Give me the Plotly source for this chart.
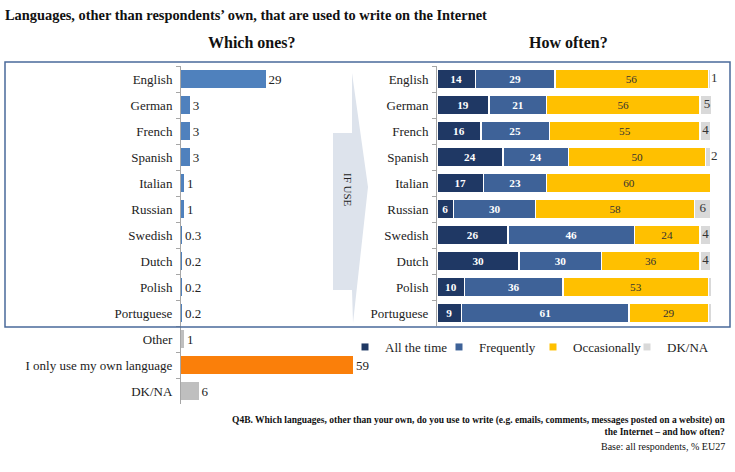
import plotly.graph_objects as go

W, H = 735, 472
FONT = "Liberation Serif, Times New Roman, DejaVu Serif, serif"

# ---- data ----
left_categories = ["English", "German", "French", "Spanish", "Italian", "Russian", "Swedish",
                   "Dutch", "Polish", "Portuguese", "Other", "I only use my own language", "DK/NA"]
left_values = [29, 3, 3, 3, 1, 1, 0.3, 0.2, 0.2, 0.2, 1, 59, 6]

right_categories = ["English", "German", "French", "Spanish", "Italian", "Russian", "Swedish",
                    "Dutch", "Polish", "Portuguese"]
all_the_time = [14, 19, 16, 24, 17, 6, 26, 30, 10, 9]
frequently = [29, 21, 25, 24, 23, 30, 46, 30, 36, 61]
occasionally = [56, 56, 55, 50, 60, 58, 24, 36, 53, 29]
dk_na = [1, 5, 4, 2, 1, 6, 4, 4, 2, 2]

series_names = ["All the time", "Frequently", "Occasionally", "DK/NA"]
series_colors = ["#1f3864", "#3e6298", "#ffc000", "#d9d9d9"]
series_text_colors = ["white", "white", "#333333", "#333333"]
series_bold = [True, True, False, False]

BLUE = "#4f81bd"
GREY = "#bfbfbf"
ORANGE = "#fa7f0a"


def px(x):
    return x / W


def py(y):
    return 1 - y / H


def fmt(v):
    return str(int(v)) if float(v).is_integer() else str(v)


left_colors = [BLUE] * 10 + [GREY, ORANGE, GREY]

fig = go.Figure()

fig.add_trace(go.Bar(
    x=left_values, y=left_categories, orientation="h",
    marker=dict(color=left_colors, line=dict(width=0)),
    text=[fmt(v) for v in left_values], textposition="outside",
    textfont=dict(family=FONT, size=13, color="#222222"),
    cliponaxis=False, showlegend=False, xaxis="x", yaxis="y",
    hoverinfo="x+y",
))

series = [all_the_time, frequently, occasionally, dk_na]
for i, (name, vals) in enumerate(zip(series_names, series)):
    is_dk = name == "DK/NA"
    fig.add_trace(go.Bar(
        x=vals, y=right_categories, orientation="h", name=name,
        marker=dict(color=series_colors[i], line=dict(color="white", width=1.5)),
        text=None if is_dk else [fmt(v) for v in vals],
        texttemplate=None if is_dk else ("<b>%{text}</b>" if series_bold[i] else "%{text}"),
        textposition="none" if is_dk else "inside", insidetextanchor="middle",
        textangle=0,
        insidetextfont=dict(family=FONT, size=13, color=series_text_colors[i]),
        cliponaxis=False, showlegend=False, xaxis="x2", yaxis="y2",
        legendgroup=name,
    ))
    fig.add_trace(go.Scatter(
        x=[None], y=[None], mode="markers", name=name, legendgroup=name,
        marker=dict(symbol="square", size=7, color=series_colors[i]),
        xaxis="x2", yaxis="y2", showlegend=True,
    ))

# DK/NA labels: centred in the segment when wide enough, just right of the bar otherwise
dk_start = [a + f + o for a, f, o in zip(all_the_time, frequently, occasionally)]
dk_x = [s + d / 2 if d >= 4 else s + d for s, d in zip(dk_start, dk_na)]
dk_pos = ["middle center" if d >= 4 else "middle right" for d in dk_na]
fig.add_trace(go.Scatter(
    x=dk_x, y=right_categories, mode="text", text=[fmt(v) for v in dk_na],
    textposition=dk_pos, textfont=dict(family=FONT, size=13, color="#333333"),
    cliponaxis=False, showlegend=False, xaxis="x2", yaxis="y2", hoverinfo="skip",
))

axis_common = dict(
    showline=True, linecolor="#a6a6a6", linewidth=1,
    ticks="outside", tickson="boundaries", ticklen=4, tickcolor="#a6a6a6",
    tickfont=dict(family=FONT, size=13, color="#222222"),
    autorange="reversed", type="category", showgrid=False, zeroline=False,
    ticklabelstandoff=5,
)

fig.update_layout(
    width=W, height=H, autosize=False,
    margin=dict(l=0, r=0, t=0, b=0, autoexpand=False),
    paper_bgcolor="white", plot_bgcolor="rgba(0,0,0,0)",
    barmode="stack", bargap=0.27,
    font=dict(family=FONT, color="#222222"),
    xaxis=dict(domain=[px(181), px(356)], range=[0, 60], visible=False, fixedrange=True),
    yaxis=dict(domain=[py(404), py(66)], anchor="x", categoryorder="array",
               categoryarray=left_categories, **axis_common),
    xaxis2=dict(domain=[px(437), px(711)], range=[0, 100], visible=False, anchor="y2"),
    yaxis2=dict(domain=[py(326), py(66)], anchor="x2", categoryorder="array",
                categoryarray=right_categories, **axis_common),
    legend=dict(orientation="h", x=px(345), y=py(332), xanchor="left", yanchor="top",
                font=dict(family=FONT, size=13, color="#222222"),
                itemwidth=30, entrywidth=49, traceorder="normal",
                bgcolor="rgba(0,0,0,0)"),
)

# IF USE arrow (background decoration)
path = (f"M {px(333)},{py(133)} L {px(352)},{py(133)} L {px(352)},{py(73)} "
        f"L {px(368)},{py(187)} L {px(353)},{py(323)} L {px(352)},{py(290)} "
        f"L {px(333)},{py(290)} Z")
fig.add_shape(type="path", path=path, xref="paper", yref="paper",
              fillcolor="#dde3ec", line=dict(width=0), layer="below")
fig.add_annotation(text="IF USE", x=px(348), y=py(190), xref="paper", yref="paper",
                   xanchor="center", yanchor="middle",
                   showarrow=False, textangle=90,
                   font=dict(family=FONT, size=11, color="#222222"))

# frame
fig.add_shape(type="rect", xref="paper", yref="paper",
              x0=px(5), x1=px(730), y0=py(327), y1=py(62),
              line=dict(color="#4a6a9a", width=1.5), fillcolor="rgba(0,0,0,0)")

# titles
fig.add_annotation(text="<b>Languages, other than respondents’ own, that are used to write on the Internet</b>",
                   x=px(3), y=py(15), xref="paper", yref="paper", xanchor="left", yanchor="middle",
                   showarrow=False, font=dict(family=FONT, size=14.4, color="#111111"))
fig.add_annotation(text="<b>Which ones?</b>", x=px(252), y=py(43), xref="paper", yref="paper",
                   xanchor="center", yanchor="middle",
                   showarrow=False, font=dict(family=FONT, size=16, color="#111111"))
fig.add_annotation(text="<b>How often?</b>", x=px(568), y=py(43), xref="paper", yref="paper",
                   xanchor="center", yanchor="middle",
                   showarrow=False, font=dict(family=FONT, size=16, color="#111111"))

# footnote
fig.add_annotation(
    text="<b>Q4B. Which languages, other than your own, do you use to write (e.g. emails, comments, messages posted on a website) on<br>the Internet – and how often?</b>",
    x=px(727), y=py(413), xref="paper", yref="paper", xanchor="right", yanchor="top",
    align="right", showarrow=False, font=dict(family=FONT, size=9.5, color="#111111"))
fig.add_annotation(text="Base: all respondents, % EU27", x=px(727), y=py(439), xref="paper", yref="paper",
                   xanchor="right", yanchor="top", align="right", showarrow=False,
                   font=dict(family=FONT, size=10, color="#111111"))

fig.write_html("out.html", config={"displayModeBar": False},
               post_script="document.body.style.margin='0px';")
